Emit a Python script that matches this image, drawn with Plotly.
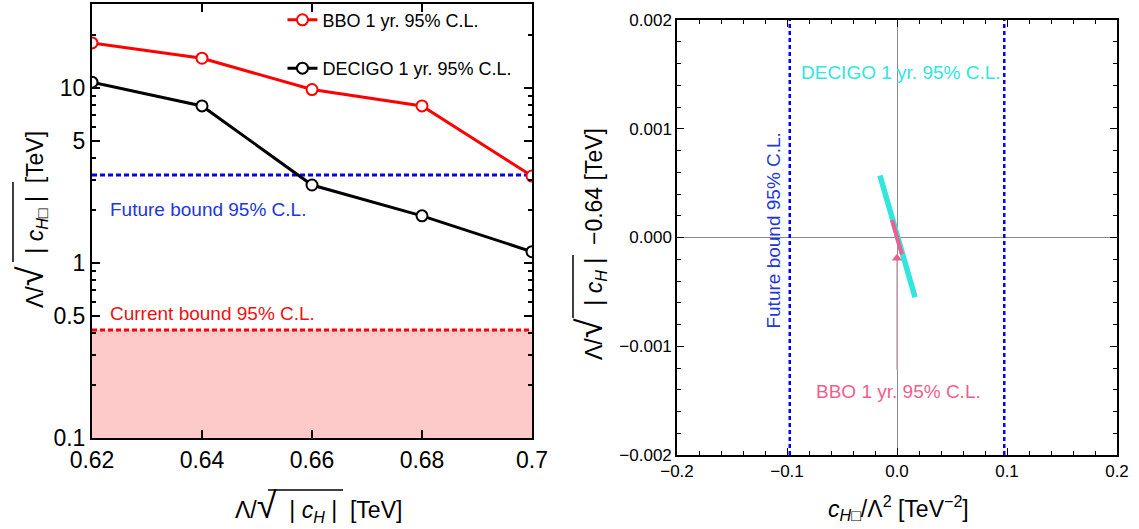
import plotly.graph_objects as go

# ---------------- data ----------------
lam_cH = [0.62, 0.64, 0.66, 0.68, 0.70]
bbo_vals = [18.1, 14.8, 9.8, 7.9, 3.14]
decigo_vals = [10.8, 7.9, 2.79, 1.86, 1.16]
future_bound_left = 3.18
current_bound_left = 0.414
left_ymin = 0.1

left_xticks = [0.62, 0.64, 0.66, 0.68, 0.70]
left_xticktext = ["0.62", "0.64", "0.66", "0.68", "0.7"]
left_yticks = [0.1, 0.5, 1, 5, 10]
left_yticktext = ["0.1", "0.5", "1", "5", "10"]
left_yminor = [0.2, 0.3, 0.4, 0.6, 0.7, 0.8, 0.9, 2, 3, 4, 6, 7, 8, 9, 20]

# right panel: contour extents
decigo_contour_x = [-0.0155, 0.0164]
decigo_contour_y = [0.00057, -0.00055]
bbo_contour_x = [-0.0045, 0.0045]
bbo_contour_y = [0.000160, -0.000155]
bbo_marker_x = [0.0]
bbo_marker_y = [-0.00019]
bbo_tail_x = [0.0, 0.0]
bbo_tail_y = [-0.0002, -0.00122]
future_bound_right = 0.0975

right_xticks = [-0.2, -0.1, 0.0, 0.1, 0.2]
right_xticktext = ["\u22120.2", "\u22120.1", "0.0", "0.1", "0.2"]
right_yticks = [-0.002, -0.001, 0.0, 0.001, 0.002]
right_yticktext = ["\u22120.002", "\u22120.001", "0.000", "0.001", "0.002"]

# ---------------- colors ----------------
RED = "#FF0000"
BLUE = "#0000FF"
BLUE_TXT = "#2236DD"
CYAN = "#30E6DE"
PINK = "#EE5F8F"
FONT = "Liberation Sans, Arial, sans-serif"
W, H = 1139, 529

fig = go.Figure()

# left panel: excluded region
fig.add_trace(go.Scatter(
    x=[lam_cH[0], lam_cH[-1], lam_cH[-1], lam_cH[0], lam_cH[0]],
    y=[left_ymin, left_ymin, current_bound_left, current_bound_left, left_ymin],
    fill="toself", fillcolor="#FDC9C9", line=dict(width=0),
    mode="lines", showlegend=False, hoverinfo="skip", xaxis="x", yaxis="y"))
fig.add_trace(go.Scatter(
    x=[lam_cH[0], lam_cH[-1]], y=[current_bound_left] * 2, mode="lines",
    line=dict(color=RED, width=3, dash="5px,3px"), showlegend=False,
    xaxis="x", yaxis="y"))
fig.add_trace(go.Scatter(
    x=[lam_cH[0], lam_cH[-1]], y=[future_bound_left] * 2, mode="lines",
    line=dict(color=BLUE, width=3, dash="5px,3px"), showlegend=False,
    xaxis="x", yaxis="y"))

fig.add_trace(go.Scatter(
    x=lam_cH, y=bbo_vals, mode="lines+markers", name="BBO 1 yr. 95% C.L.",
    line=dict(color=RED, width=3),
    marker=dict(symbol="circle", size=11, color="white", line=dict(color=RED, width=2)),
    legendgroup="a", xaxis="x", yaxis="y"))
fig.add_trace(go.Scatter(
    x=lam_cH, y=decigo_vals, mode="lines+markers", name="DECIGO 1 yr. 95% C.L.",
    line=dict(color="black", width=3),
    marker=dict(symbol="circle", size=11, color="white", line=dict(color="black", width=2)),
    legendgroup="b", xaxis="x", yaxis="y"))

# right panel
for xv in (-future_bound_right, future_bound_right):
    fig.add_trace(go.Scatter(
        x=[xv, xv], y=[right_yticks[0], right_yticks[-1]], mode="lines",
        line=dict(color=BLUE, width=2.5, dash="4px,3px"), showlegend=False,
        xaxis="x2", yaxis="y2"))
fig.add_trace(go.Scatter(
    x=bbo_tail_x, y=bbo_tail_y, mode="lines",
    line=dict(color="#C9A3B3", width=1.5), showlegend=False, xaxis="x2", yaxis="y2"))
fig.add_trace(go.Scatter(
    x=decigo_contour_x, y=decigo_contour_y, mode="lines",
    line=dict(color=CYAN, width=5.5), showlegend=False, xaxis="x2", yaxis="y2"))
fig.add_trace(go.Scatter(
    x=bbo_contour_x, y=bbo_contour_y, mode="lines",
    line=dict(color=PINK, width=4), showlegend=False, xaxis="x2", yaxis="y2"))
fig.add_trace(go.Scatter(
    x=bbo_marker_x, y=bbo_marker_y, mode="markers",
    marker=dict(symbol="triangle-up", size=9, color=PINK), showlegend=False,
    xaxis="x2", yaxis="y2"))

axis_common = dict(
    showline=True, linecolor="black", mirror="allticks", ticks="inside",
    tickcolor="black", showgrid=False, automargin=False,
)

fig.update_layout(
    width=W, height=H,
    margin=dict(l=0, r=0, t=0, b=0),
    paper_bgcolor="white", plot_bgcolor="white",
    font=dict(family=FONT, color="black"),
    showlegend=True,
    legend=dict(x=0.248, y=0.997, xanchor="left", yanchor="top",
                bgcolor="rgba(0,0,0,0)", font=dict(size=18, family=FONT),
                traceorder="grouped", tracegroupgap=22, itemwidth=30),
    xaxis=dict(domain=[92 / W, 532 / W], range=[0.62, 0.70],
               tickvals=left_xticks, ticktext=left_xticktext,
               tickfont=dict(size=23), ticklen=8, tickwidth=1.5, linewidth=2,
               zeroline=False, anchor="y", **axis_common),
    yaxis=dict(domain=[1 - 438 / H, 1 - 4 / H], type="log", range=[-1, 1.48],
               tickvals=left_yticks, ticktext=left_yticktext,
               tickfont=dict(size=23), ticklen=8, tickwidth=1.5, linewidth=2,
               minor=dict(tickvals=left_yminor, ticks="inside", ticklen=4,
                          tickcolor="black", showgrid=False),
               zeroline=False, anchor="x", **axis_common),
    xaxis2=dict(domain=[677 / W, 1117 / W], range=[-0.2, 0.2],
                tickvals=right_xticks, ticktext=right_xticktext,
                tickfont=dict(size=17), ticklen=7, tickwidth=1.2, linewidth=1.5,
                minor=dict(dtick=0.02, tick0=0, ticks="inside", ticklen=4,
                           tickcolor="black", showgrid=False),
                zeroline=True, zerolinecolor="#8A8A8A", zerolinewidth=1,
                anchor="y2", **axis_common),
    yaxis2=dict(domain=[1 - 455 / H, 1 - 20 / H], range=[-0.002, 0.002],
                tickvals=right_yticks, ticktext=right_yticktext,
                tickfont=dict(size=17), ticklen=7, tickwidth=1.2, linewidth=1.5,
                minor=dict(dtick=0.0002, tick0=0, ticks="inside", ticklen=4,
                           tickcolor="black", showgrid=False),
                zeroline=True, zerolinecolor="#8A8A8A", zerolinewidth=1,
                anchor="x2", **axis_common),
)

NB = "\u00a0"
RAD = "<span style='font-size:36px'>\u221a</span>"
annotations = [
    # left panel labels
    dict(text="Future bound 95% C.L.", x=0.6229, y=0.303, xref="x", yref="y",
         xanchor="left", yanchor="middle", showarrow=False,
         font=dict(size=19, color=BLUE_TXT)),
    dict(text="Current bound 95% C.L.", x=0.6229, y=-0.286, xref="x", yref="y",
         xanchor="left", yanchor="middle", showarrow=False,
         font=dict(size=19, color="#EE1111")),
    # right panel labels
    dict(text="DECIGO 1 yr. 95% C.L.", x=0.0036, y=0.001514, xref="x2", yref="y2",
         xanchor="center", yanchor="middle", showarrow=False,
         font=dict(size=19, color=CYAN)),
    dict(text="BBO 1 yr. 95% C.L.", x=0.001, y=-0.001413, xref="x2", yref="y2",
         xanchor="center", yanchor="middle", showarrow=False,
         font=dict(size=19, color=PINK)),
    dict(text="Future bound 95% C.L.", x=-0.1118, y=0.000064, xref="x2", yref="y2",
         xanchor="center", yanchor="middle", showarrow=False, textangle=-90,
         font=dict(size=19, color=BLUE_TXT)),
    # axis titles
    dict(text=f"\u039b/{RAD}{NB}{NB}|{NB}<i>c<sub>H</sub></i>{NB}|{NB}{NB}[TeV]",
         x=318 / W, y=1 - 505 / H,
         xref="paper", yref="paper", xanchor="center", yanchor="middle",
         showarrow=False, font=dict(size=23)),
    dict(text=f"\u039b/{RAD}{NB}{NB}|{NB}<i>c<sub>H</sub></i><sub>\u25a1</sub>{NB}|{NB}{NB}[TeV]",
         x=30 / W, y=1 - 220 / H,
         xref="paper", yref="paper", xanchor="center", yanchor="middle",
         textangle=-90, showarrow=False, font=dict(size=23)),
    dict(text="<i>c<sub>H</sub></i><sub>\u25a1</sub>/\u039b<sup>2</sup> [TeV<sup>\u22122</sup>]",
         x=898 / W, y=1 - 508 / H,
         xref="paper", yref="paper", xanchor="center", yanchor="middle",
         showarrow=False, font=dict(size=23)),
    dict(text=f"\u039b/{RAD}{NB}{NB}|{NB}<i>c<sub>H</sub></i>{NB}|{NB}{NB}\u22120.64 [TeV]",
         x=590 / W, y=1 - 244 / H,
         xref="paper", yref="paper", xanchor="center", yanchor="middle",
         textangle=-90, showarrow=False, font=dict(size=23)),
]
fig.update_layout(annotations=annotations)

# vincula (overbars) of the radical signs in the axis titles, in paper coords
def hbar(x0, x1, y):
    return dict(type="line", xref="paper", yref="paper",
                x0=x0 / W, x1=x1 / W, y0=1 - y / H, y1=1 - y / H,
                line=dict(color="black", width=1.5))

def vbar(x, y0, y1):
    return dict(type="line", xref="paper", yref="paper",
                x0=x / W, x1=x / W, y0=1 - y0 / H, y1=1 - y1 / H,
                line=dict(color="black", width=1.5))

fig.update_layout(shapes=[
    hbar(268, 343, 490),
    vbar(13, 262, 182),
    vbar(573, 318, 255),
])

fig.write_html(
    "out.html",
    config={"displayModeBar": False},
    post_script="document.body.style.margin='0';document.body.style.overflow='hidden';",
)
